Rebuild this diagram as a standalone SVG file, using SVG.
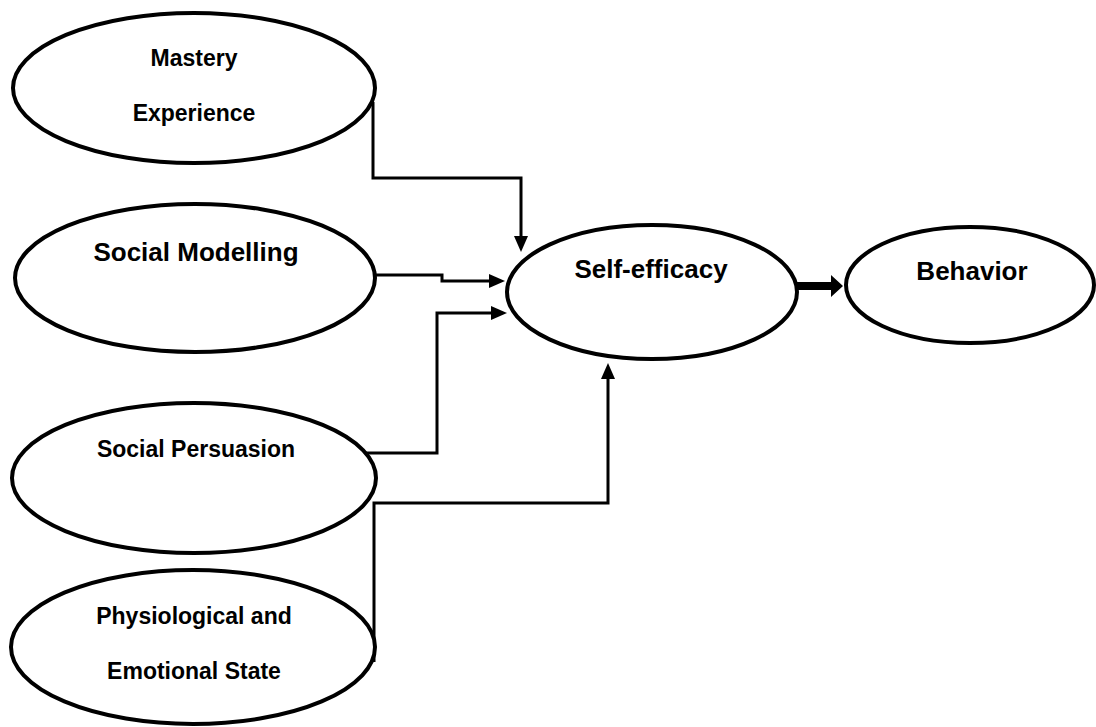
<svg xmlns="http://www.w3.org/2000/svg" width="1096" height="727" viewBox="0 0 1096 727">
<style>
.node{fill:#fff;stroke:#000;stroke-width:4}
.lbl{font-family:"Liberation Sans",Arial,sans-serif;font-weight:bold;fill:#000;text-anchor:middle}
.s{font-size:23px}
.b{font-size:26px}
.con{fill:none;stroke:#000;stroke-width:3}
</style>
<defs>
<marker id="ah" markerUnits="userSpaceOnUse" markerWidth="17" markerHeight="14" refX="1" refY="7" orient="auto">
<path d="M0,0 L16,7 L0,14 z" fill="#000"/>
</marker>
</defs>
<rect width="1096" height="727" fill="#fff"/>
<g id="connectors">
<path class="con" d="M373,102 V178 H521 V237" marker-end="url(#ah)"/>
<path class="con" d="M374,275 H442 V281 H490" marker-end="url(#ah)"/>
<path class="con" d="M366,453 H437 V313 H492" marker-end="url(#ah)"/>
<path class="con" d="M374,662 V503 H608 V378" marker-end="url(#ah)"/>
<polygon points="797,282 831,282 831,275 843,286 831,297 831,290 797,290" fill="#000"/>
</g>
<g id="mastery">
<ellipse class="node" cx="194" cy="88" rx="181" ry="75"/>
<text class="lbl s" x="194" y="66">Mastery</text>
<text class="lbl s" x="194" y="121">Experience</text>
</g>
<g id="social-modelling">
<ellipse class="node" cx="195" cy="278" rx="180" ry="74"/>
<text class="lbl b" x="196" y="261">Social Modelling</text>
</g>
<g id="social-persuasion">
<ellipse class="node" cx="194" cy="478" rx="182" ry="75"/>
<text class="lbl s" x="196" y="457">Social Persuasion</text>
</g>
<g id="physiological">
<ellipse class="node" cx="193" cy="647" rx="182" ry="77"/>
<text class="lbl s" x="194" y="624">Physiological and</text>
<text class="lbl s" x="194" y="679">Emotional State</text>
</g>
<g id="self-efficacy">
<ellipse class="node" cx="652" cy="292" rx="145" ry="67"/>
<text class="lbl b" x="651" y="278">Self-efficacy</text>
</g>
<g id="behavior">
<ellipse class="node" cx="970" cy="285" rx="124" ry="58"/>
<text class="lbl b" x="972" y="280">Behavior</text>
</g>
</svg>
